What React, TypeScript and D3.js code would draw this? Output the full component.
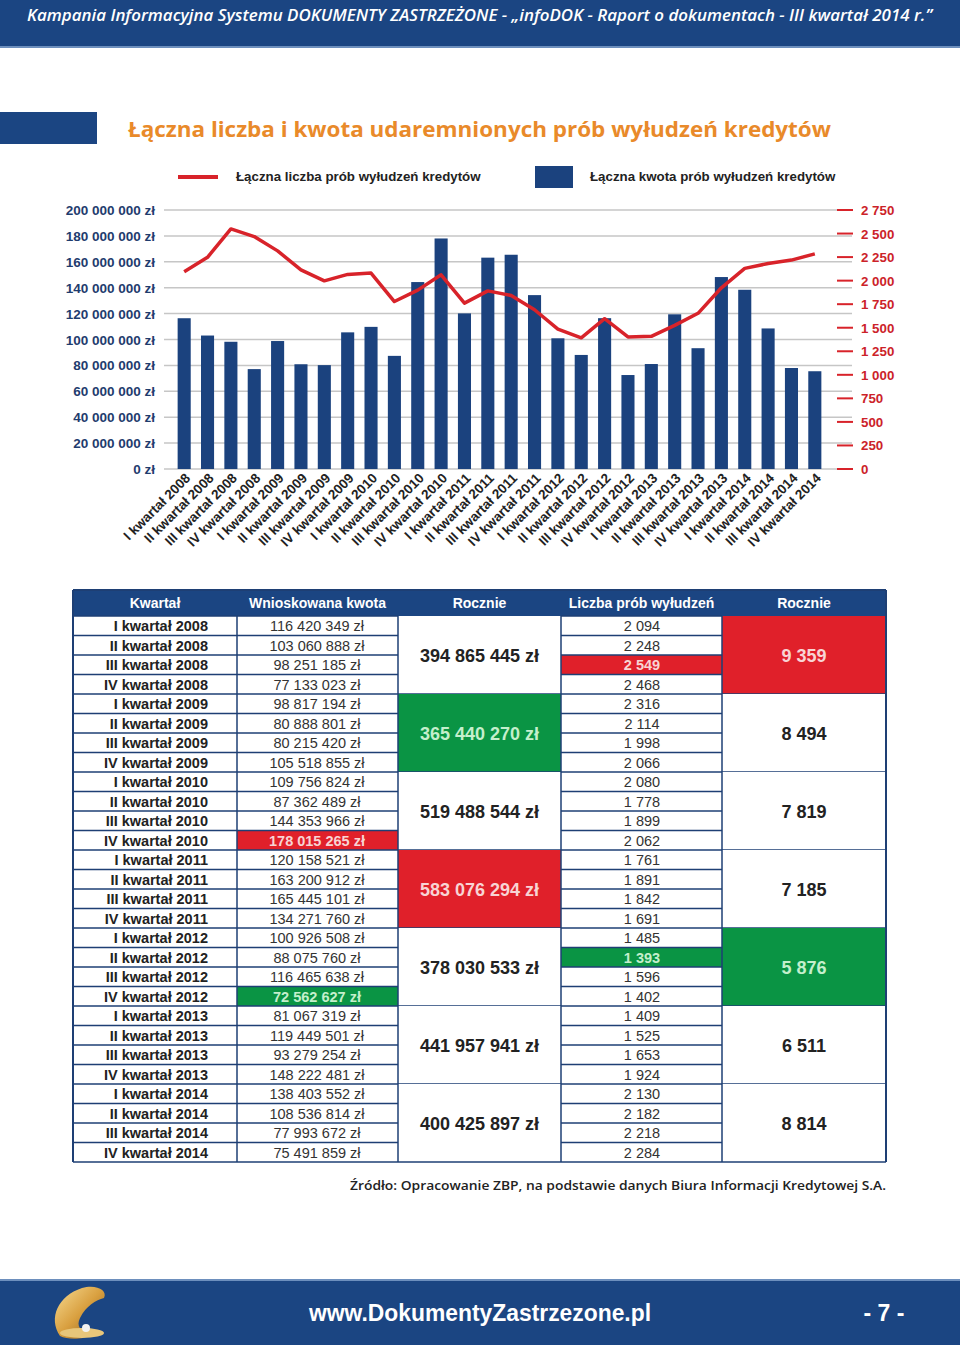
import React from "react";
import * as d3 from "d3";

const quarters = [
  "I kwartał 2008","II kwartał 2008","III kwartał 2008","IV kwartał 2008",
  "I kwartał 2009","II kwartał 2009","III kwartał 2009","IV kwartał 2009",
  "I kwartał 2010","II kwartał 2010","III kwartał 2010","IV kwartał 2010",
  "I kwartał 2011","II kwartał 2011","III kwartał 2011","IV kwartał 2011",
  "I kwartał 2012","II kwartał 2012","III kwartał 2012","IV kwartał 2012",
  "I kwartał 2013","II kwartał 2013","III kwartał 2013","IV kwartał 2013",
  "I kwartał 2014","II kwartał 2014","III kwartał 2014","IV kwartał 2014",
];
const amounts = [
  116420349,103060888,98251185,77133023,
  98817194,80888801,80215420,105518855,
  109756824,87362489,144353966,178015265,
  120158521,163200912,165445101,134271760,
  100926508,88075760,116465638,72562627,
  81067319,119449501,93279254,148222481,
  138403552,108536814,77993672,75491859,
];
const counts = [
  2094,2248,2549,2468,
  2316,2114,1998,2066,
  2080,1778,1899,2062,
  1761,1891,1842,1691,
  1485,1393,1596,1402,
  1409,1525,1653,1924,
  2130,2182,2218,2284,
];
const yearAmounts = [394865445,365440270,519488544,583076294,378030533,441957941,400425897];
const yearCounts = [9359,8494,7819,7185,5876,6511,8814];
const leftTicks = [0,20e6,40e6,60e6,80e6,100e6,120e6,140e6,160e6,180e6,200e6];
const rightTicks = [0,250,500,750,1000,1250,1500,1750,2000,2250,2500,2750];
// highlight: "max" red, "min" green
const amountHi: Record<number,string> = { 11: "max", 19: "min" };
const countHi: Record<number,string> = { 2: "max", 17: "min" };
const yearAmountHi: Record<number,string> = { 3: "max", 1: "min" };
const yearCountHi: Record<number,string> = { 0: "max", 4: "min" };

const BLUE = "#1b427e";
const DARK = "#1b4582";
const RED = "#d8232a";
const CELLRED = "#e0202a";
const GREEN = "#0a9444";
const BORDER = "#1e3f74";

const fmt = (n: number) => d3.format(",")(n).replace(/,/g, "\u00a0");

export default function App() {
  const W = 960, H = 1345;
  const x = d3.scaleBand<string>().domain(quarters).range([172.5, 826.5]).paddingInner(0.44).paddingOuter(0.22);
  const yL = d3.scaleLinear().domain([0, 200e6]).range([469, 210]);
  const yR = d3.scaleLinear().domain([0, 2750]).range([469, 210]);
  const cx = (q: string) => (x(q) as number) + x.bandwidth() / 2;
  const line = d3.line<number>().x((_, i) => cx(quarters[i])).y((d) => yR(d));

  // table geometry
  const tx = [73, 237, 398, 561, 722, 886];
  const headTop = 590, rowTop = 616, rowH = 19.5;
  const rowsY = d3.range(quarters.length + 1).map((i) => rowTop + i * rowH);
  const hiFill = (h?: string) => (h === "max" ? CELLRED : h === "min" ? GREEN : "#fff");
  const hiText = (h?: string, def = "#222") => (h === "max" ? "#f8d4d4" : h === "min" ? "#c4efcc" : def);
  const font = "Arial, 'Liberation Sans', sans-serif";

  return (
    <svg width={W} height={H} style={{ display: "block", position: "absolute", left: 0, top: 0 }} fontFamily={font}>
      <defs>
        <linearGradient id="gold" x1="0" y1="0" x2="1" y2="1">
          <stop offset="0" stopColor="#f7dc94" />
          <stop offset="0.5" stopColor="#d9a040" />
          <stop offset="1" stopColor="#8a5a1c" />
        </linearGradient>
      </defs>
      <rect x={0} y={0} width={W} height={H} fill="#fff" />
      {/* header */}
      <rect x={0} y={0} width={W} height={47} fill={DARK} />
      <rect x={0} y={46} width={W} height={2} fill="#6d8fbd" />
      <text x={27} y={21} fill="#fff" fontSize={15.5} fontWeight={600} fontStyle="italic"
        fontFamily="'Open Sans', sans-serif" textLength={905} lengthAdjust="spacingAndGlyphs">
        Kampania Informacyjna Systemu DOKUMENTY ZASTRZEŻONE - „infoDOK - Raport o dokumentach - III kwartał 2014 r.”
      </text>

      {/* title */}
      <rect x={0} y={112} width={97} height={32} fill={DARK} />
      <text x={128} y={137} fill="#e98a2a" fontSize={22} fontWeight="bold"
        fontFamily="'Open Sans', sans-serif" textLength={703} lengthAdjust="spacingAndGlyphs">
        Łączna liczba i kwota udaremnionych prób wyłudzeń kredytów
      </text>

      {/* legend */}
      <line x1={178} x2={218} y1={177} y2={177} stroke={RED} strokeWidth={4} />
      <text x={236} y={181} fontSize={13.3} fontWeight="bold" fill="#222">Łączna liczba prób wyłudzeń kredytów</text>
      <rect x={535} y={166} width={38} height={22} fill={BLUE} />
      <text x={590} y={181} fontSize={13.3} fontWeight="bold" fill="#222">Łączna kwota prób wyłudzeń kredytów</text>

      {/* grid */}
      {leftTicks.map((t) => (
        <g key={"g" + t}>
          <line x1={164} x2={852} y1={yL(t)} y2={yL(t)} stroke="#c6c6c6" strokeWidth={1.5} />
          <text x={155} y={yL(t) + 5} textAnchor="end" fontSize={13.5} fontWeight="bold" fill="#1f3c6e">
            {t === 0 ? "0 zł" : fmt(t) + " zł"}
          </text>
        </g>
      ))}
      {rightTicks.map((t) => (
        <g key={"r" + t}>
          <line x1={837} x2={853} y1={yR(t)} y2={yR(t)} stroke={RED} strokeWidth={2} />
          <text x={861} y={yR(t) + 5} fontSize={13.3} fontWeight="bold" fill="#cc2229">{fmt(t)}</text>
        </g>
      ))}

      {/* bars */}
      {amounts.map((v, i) => (
        <rect key={"b" + i} x={x(quarters[i])} y={yL(v)} width={x.bandwidth()} height={yL(0) - yL(v)} fill={BLUE} />
      ))}
      <path d={line(counts) || ""} fill="none" stroke={RED} strokeWidth={3.5} strokeLinejoin="round" />

      {/* x labels */}
      {quarters.map((q) => (
        <text key={"x" + q} transform={`translate(${cx(q) + 7},${479}) rotate(-45)`} textAnchor="end"
          fontSize={13.5} fontWeight="bold" fill="#222">{q}</text>
      ))}

      {/* table */}
      <rect x={tx[0]} y={headTop} width={tx[5] - tx[0]} height={rowTop - headTop} fill={DARK} />
      {["Kwartał", "Wnioskowana kwota", "Rocznie", "Liczba prób wyłudzeń", "Rocznie"].map((h, i) => (
        <text key={"h" + i} x={(tx[i] + tx[i + 1]) / 2} y={608} textAnchor="middle" fill="#fff" fontSize={14} fontWeight="bold">{h}</text>
      ))}
      {quarters.map((q, i) => {
        const y0 = rowsY[i];
        return (
          <g key={"row" + i}>
            <rect x={tx[1]} y={y0} width={tx[2] - tx[1]} height={rowH} fill={hiFill(amountHi[i])} />
            <rect x={tx[3]} y={y0} width={tx[4] - tx[3]} height={rowH} fill={hiFill(countHi[i])} />
            <text x={208} y={y0 + 15} textAnchor="end" fontSize={14.5} fontWeight="bold" fill="#222">{q}</text>
            <text x={317} y={y0 + 15} textAnchor="middle" fontSize={14.5}
              fontWeight={amountHi[i] ? "bold" : "normal"} fill={hiText(amountHi[i], "#333")}>{fmt(amounts[i]) + " zł"}</text>
            <text x={642} y={y0 + 15} textAnchor="middle" fontSize={14.5}
              fontWeight={countHi[i] ? "bold" : "normal"} fill={hiText(countHi[i], "#333")}>{fmt(counts[i])}</text>
          </g>
        );
      })}
      {yearAmounts.map((v, k) => {
        const y0 = rowsY[k * 4], y1 = rowsY[k * 4 + 4];
        return (
          <g key={"y" + k}>
            <rect x={tx[2]} y={y0} width={tx[3] - tx[2]} height={y1 - y0} fill={hiFill(yearAmountHi[k])} />
            <rect x={tx[4]} y={y0} width={tx[5] - tx[4]} height={y1 - y0} fill={hiFill(yearCountHi[k])} />
            <text x={(tx[2] + tx[3]) / 2} y={(y0 + y1) / 2 + 6.5} textAnchor="middle" fontSize={18} fontWeight="bold"
              fill={hiText(yearAmountHi[k])}>{fmt(v) + " zł"}</text>
            <text x={(tx[4] + tx[5]) / 2} y={(y0 + y1) / 2 + 6.5} textAnchor="middle" fontSize={18} fontWeight="bold"
              fill={hiText(yearCountHi[k])}>{fmt(yearCounts[k])}</text>
            <line x1={tx[2]} x2={tx[3]} y1={y1} y2={y1} stroke={BORDER} strokeWidth={1.5} />
            <line x1={tx[4]} x2={tx[5]} y1={y1} y2={y1} stroke={BORDER} strokeWidth={1.5} />
          </g>
        );
      })}
      {rowsY.map((y, i) => (
        <g key={"hl" + i}>
          <line x1={tx[0]} x2={tx[2]} y1={y} y2={y} stroke={BORDER} strokeWidth={1.5} />
          <line x1={tx[3]} x2={tx[4]} y1={y} y2={y} stroke={BORDER} strokeWidth={1.5} />
        </g>
      ))}
      {tx.map((xx, i) => (
        <line key={"v" + i} x1={xx} x2={xx} y1={i === 0 || i === 5 ? headTop : rowTop} y2={rowsY[rowsY.length - 1]} stroke={BORDER} strokeWidth={i === 0 || i === 5 ? 2 : 1.5} />
      ))}
      <line x1={tx[0]} x2={tx[5]} y1={headTop} y2={headTop} stroke={BORDER} strokeWidth={2} />

      {/* source */}
      <text x={886} y={1190} textAnchor="end" fontSize={13} fontWeight={600} fill="#222"
        fontFamily="'Open Sans', sans-serif" textLength={536} lengthAdjust="spacingAndGlyphs">
        Źródło: Opracowanie ZBP, na podstawie danych Biura Informacji Kredytowej S.A.
      </text>

      {/* footer */}
      <rect x={0} y={1279} width={W} height={66} fill={DARK} />
      <rect x={0} y={1279} width={W} height={2} fill="#6d8fbd" />
      <g>
        <path d="M60,1336 C48,1318 58,1296 82,1288 C96,1284 108,1290 104,1298 C96,1300 86,1306 80,1318 C76,1326 80,1332 92,1334 C84,1340 68,1340 60,1336 Z" fill="url(#gold)" />
        <ellipse cx={82} cy={1333} rx={22} ry={5} fill="#e8c67a" />
        <circle cx={86} cy={1328} r={4} fill="#f2f2f2" />
      </g>
      <text x={309} y={1321} fontSize={23} fontWeight="bold" fill="#fff" textLength={342} lengthAdjust="spacingAndGlyphs">www.DokumentyZastrzezone.pl</text>
      <text x={884} y={1321} textAnchor="middle" fontSize={23} fontWeight="bold" fill="#fff">- 7 -</text>
    </svg>
  );
}
